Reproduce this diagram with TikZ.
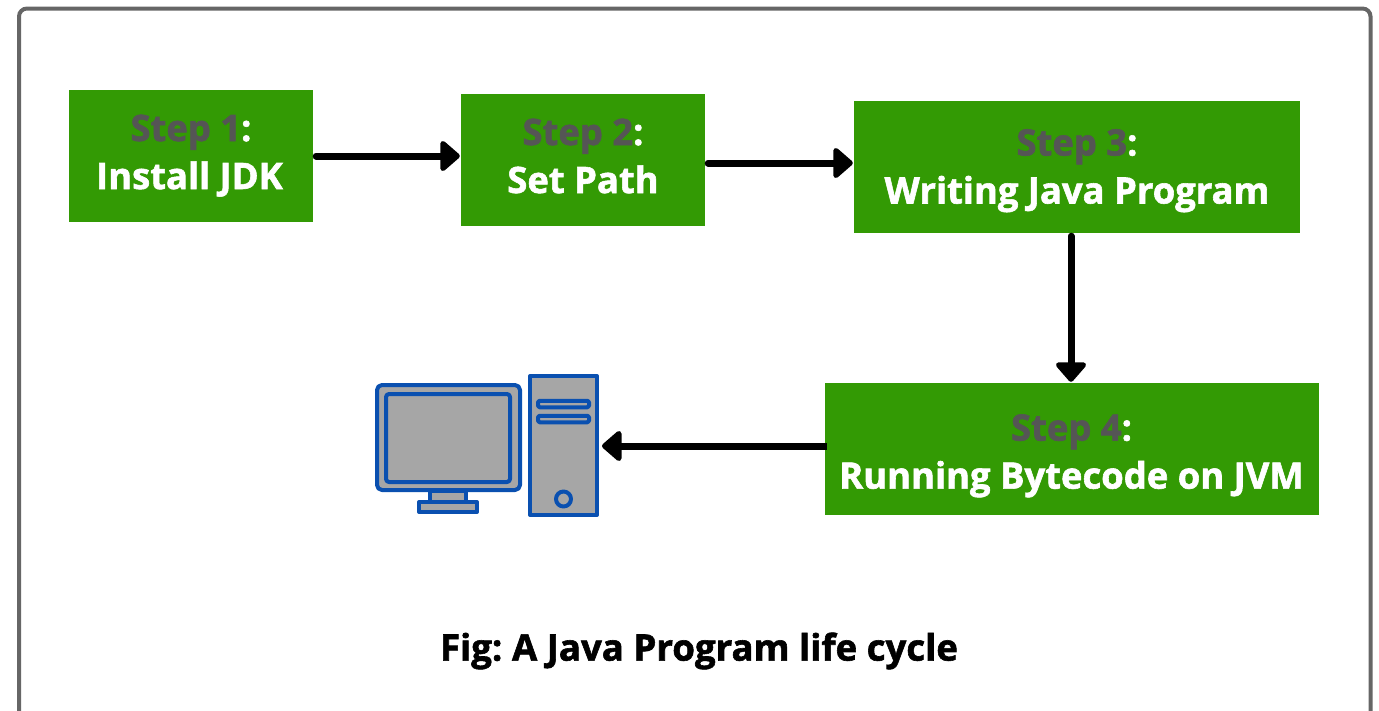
\documentclass[tikz,border=0pt]{standalone}
\usepackage{fontspec}
\setmainfont{Open Sans}[BoldFeatures={FakeBold=1.6}]
\usetikzlibrary{arrows.meta}
\definecolor{boxgreen}{HTML}{339A04}
\definecolor{stepgray}{HTML}{555555}
\definecolor{framegray}{HTML}{666666}
\definecolor{pcblue}{HTML}{0A50B0}
\definecolor{pcgray}{HTML}{A6A6A6}
\tikzset{
  stepbox/.style={fill=boxgreen,text=white,font=\fontsize{36.4}{48}\selectfont\bfseries,align=center,inner sep=0pt,minimum height=132pt},
  flow/.style={line width=7pt,line cap=round,-{Triangle[length=21pt,width=35pt,round]},draw=black,shorten >=1pt,shorten <=3pt},
  pc/.style={draw=pcblue,fill=pcgray,line width=4pt,line join=round}
}
% #3 and #4 are extra height on the first line and extra depth on the last, which set the text's place in its box
\newcommand{\steplabel}[4]{\rule{0pt}{#3pt}\textcolor{stepgray}{Step #1}:\\#2\rule[-#4pt]{0pt}{#4pt}}
\begin{document}
\begin{tikzpicture}[x=1pt,y=-1pt]
\useasboundingbox (0,0) rectangle (1379,710);
\begin{scope}
\clip (0,0) rectangle (1379,710);
\draw[framegray,line width=4pt,rounded corners=8pt] (19,8.5) rectangle (1370.5,740);
\end{scope}
\node[stepbox,minimum width=244pt] (s1) at (191,156) {\steplabel{1}{Install JDK\hspace{3pt}}{40}{22}};
\node[stepbox,minimum width=244pt] (s2) at (583,160) {\steplabel{2}{Set Path}{40}{22}};
\node[stepbox,minimum width=446pt] (s3) at (1077,167) {\steplabel{3}{Writing Java Program}{40}{15}};
\node[stepbox,minimum width=494pt] (s4) at (1071.5,449) {\steplabel{4}{Running Bytecode on JVM}{40}{6}};
% computer
\node[pc,rectangle,minimum width=67pt,minimum height=139pt,inner sep=0pt] (tower) at (563.5,445.5) {};
\node[pc,rectangle,rounded corners=1.5pt,minimum width=51pt,minimum height=6.5pt,inner sep=0pt] (slota) at (563.5,404) {};
\node[pc,rectangle,rounded corners=1.5pt,minimum width=51pt,minimum height=6.5pt,inner sep=0pt] (slotb) at (563.5,419) {};
\node[pc,circle,minimum size=15pt,inner sep=0pt] (btn) at (563.5,499) {};
\node[pc,rectangle,minimum width=36pt,minimum height=12pt,inner sep=0pt] (neck) at (448,497) {};
\node[pc,rectangle,minimum width=58pt,minimum height=10pt,inner sep=0pt] (base) at (448,507) {};
\node[pc,rectangle,rounded corners=5pt,minimum width=143pt,minimum height=105pt,inner sep=0pt] (monitor) at (448.5,437.5) {};
\node[pc,rectangle,rounded corners=3pt,minimum width=124pt,minimum height=88pt,inner sep=0pt] (screen) at (448,438) {};
% connectors
\coordinate (a2) at ([yshift=-3pt]s2.east);
\coordinate (a3) at ([xshift=-6pt]s3.south);
\coordinate (a4) at ([yshift=3pt]s4.west);
\coordinate (t4) at ([xshift=2pt]tower.east |- a4);
\draw[flow] (s1.east) -- (s2.west |- s1.east);
\draw[flow] (a2) -- (s3.west |- a2);
\draw[flow] (a3) -- (a3 |- s4.north);
\draw[flow,line cap=butt,shorten <=-2.5pt] (a4) -- (t4);
\node[font=\fontsize{36.6}{40}\selectfont\bfseries,text=black,inner sep=0pt] (cap) at (699,651) {Fig:\kern-3pt{} A Java Program life cycle};
\end{tikzpicture}
\end{document}
